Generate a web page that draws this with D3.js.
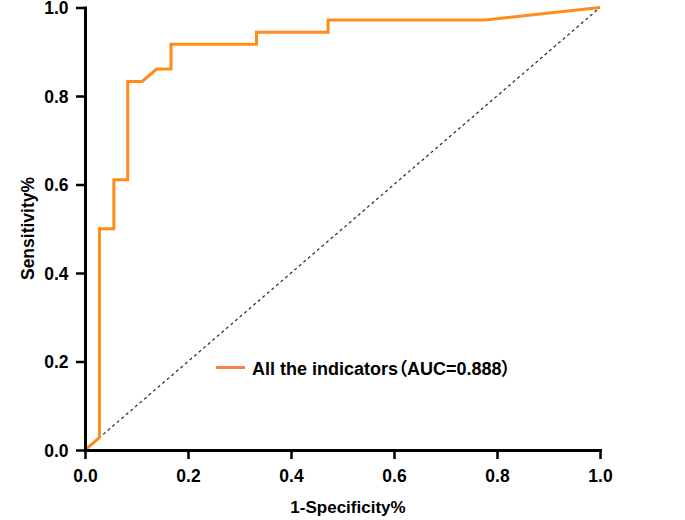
<!DOCTYPE html>
<html>
<head>
<meta charset="utf-8">
<script src="https://cdn.jsdelivr.net/npm/d3@7/dist/d3.min.js"></script>
<style>
	body { margin: 0; background: #fff; }
	text { font-family: "Liberation Sans", Arial, sans-serif; font-weight: bold; }
	.legend-label { font-family: "Liberation Sans", Arial, "Noto Sans CJK SC", sans-serif; font-feature-settings: "palt"; }
</style>
</head>
<body>
<svg class="chart"></svg>
<script>
// ROC points (1-specificity, sensitivity)
var fpr = [0, 0.028, 0.028, 0.056, 0.056, 0.083, 0.083, 0.111, 0.139, 0.167, 0.167, 0.333, 0.333, 0.472, 0.472, 0.778, 1];
var tpr = [0, 0.028, 0.5, 0.5, 0.611, 0.611, 0.833, 0.833, 0.861, 0.861, 0.917, 0.917, 0.944, 0.944, 0.972, 0.972, 1];
var xTicks = [0, 0.2, 0.4, 0.6, 0.8, 1.0];
var yTicks = [0, 0.2, 0.4, 0.6, 0.8, 1.0];
var legendLabel = "All the indicators（AUC=0.888）";

var svgWidth = 685,
	svgHeight = 520;

var chart = d3.select( ".chart" )
	.attr( "width", svgWidth )
	.attr( "height", svgHeight );

var x = d3.scaleLinear().domain( [0, 1] ).range( [85, 600] ),
	y = d3.scaleLinear().domain( [0, 1] ).range( [450, 7.5] );

var curveColor = "#ff8c1a";

// chance line
chart.append( "line" )
	.attr( "x1", x(0) ).attr( "y1", y(0) )
	.attr( "x2", x(1) ).attr( "y2", y(1) )
	.attr( "stroke", "#333" )
	.attr( "stroke-width", 1.3 )
	.attr( "stroke-dasharray", "3,3" );

var points = fpr.map( function(d, i) { return [d, tpr[i]]; } );

chart.append( "path" )
	.datum( points )
	.attr( "fill", "none" )
	.attr( "stroke", curveColor )
	.attr( "stroke-width", 3 )
	.attr( "d", d3.line()
		.x( function(d) { return x(d[0]); } )
		.y( function(d) { return y(d[1]); } ) );

// axes
var xAxis = chart.append( "g" )
	.attr( "transform", "translate(0," + y(0) + ")" )
	.call( d3.axisBottom( x ).tickValues( xTicks ).tickFormat( d3.format( ".1f" ) ).tickSize( 9 ).tickSizeOuter( 0 ) );

var yAxis = chart.append( "g" )
	.attr( "transform", "translate(" + x(0) + ",0)" )
	.call( d3.axisLeft( y ).tickValues( yTicks ).tickFormat( d3.format( ".1f" ) ).tickSize( 9 ).tickSizeOuter( 0 ) );

[xAxis, yAxis].forEach( function(a) {
	a.select( ".domain" ).attr( "stroke", "#000" ).attr( "stroke-width", 3 ).attr( "stroke-linecap", "square" );
	a.selectAll( ".tick line" ).attr( "stroke", "#000" ).attr( "stroke-width", 2.5 );
	a.selectAll( ".tick text" ).attr( "fill", "#000" ).style( "font-size", "17.5px" ).style( "font-weight", "bold" );
} );
xAxis.selectAll( ".tick text" ).attr( "y", 32 ).attr( "dy", 0 );
yAxis.selectAll( ".tick text" ).attr( "x", -16.5 ).attr( "dy", "0.36em" );

// axis titles
chart.append( "text" )
	.attr( "x", 348 )
	.attr( "y", 513 )
	.attr( "text-anchor", "middle" )
	.style( "font-size", "17px" )
	.text( "1-Specificity%" );

chart.append( "text" )
	.attr( "transform", "translate(34,228.5) rotate(-90)" )
	.attr( "text-anchor", "middle" )
	.style( "font-size", "17.5px" )
	.text( "Sensitivity%" );

// legend
chart.append( "line" )
	.attr( "x1", 216 ).attr( "x2", 245 )
	.attr( "y1", 367.5 ).attr( "y2", 367.5 )
	.attr( "stroke", "#f8834a" )
	.attr( "stroke-width", 3 );

chart.append( "text" )
	.attr( "class", "legend-label" )
	.attr( "x", 252 )
	.attr( "y", 375 )
	.style( "font-size", "18px" )
	.text( legendLabel );
</script>
</body>
</html>
